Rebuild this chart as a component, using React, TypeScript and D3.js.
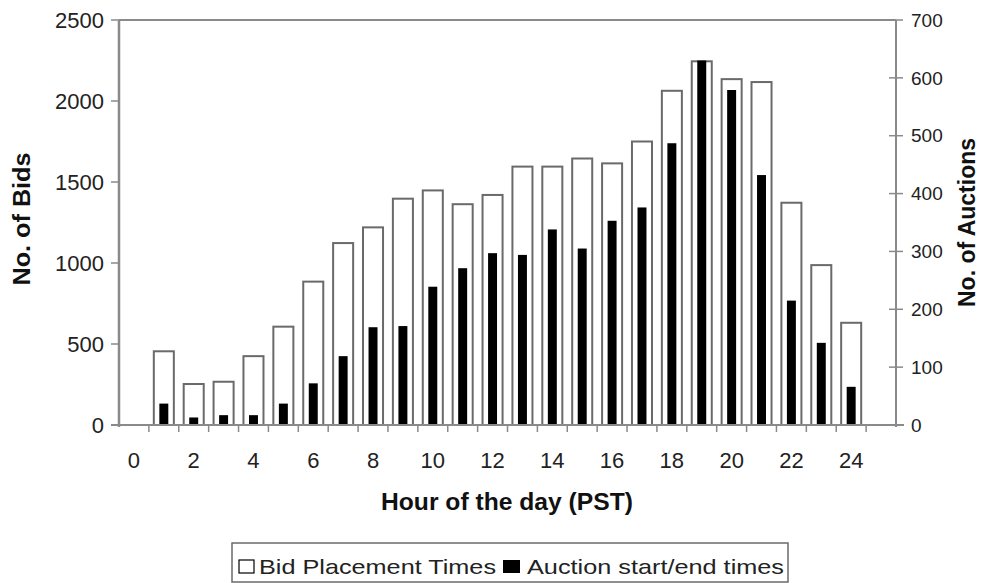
import React from "react";
import * as d3 from "d3";

const hours = d3.range(0, 26);
const bidCounts = [0, 455, 253, 267, 425, 607, 885, 1123, 1220, 1397, 1448, 1363, 1420, 1595, 1595, 1645, 1615, 1750, 2063, 2245, 2135, 2117, 1372, 987, 631, 0];
const auctionCounts = [0, 37, 13, 17, 17, 37, 72, 119, 169, 171, 239, 271, 297, 294, 338, 305, 353, 376, 487, 630, 579, 432, 215, 142, 66, 0];
const leftTicks = [0, 500, 1000, 1500, 2000, 2500];
const rightTicks = [0, 100, 200, 300, 400, 500, 600, 700];
const xLabels = [0, 2, 4, 6, 8, 10, 12, 14, 16, 18, 20, 22, 24];

const W = 985;
const H = 583;
const L = 119;
const R = 896;
const T = 20;
const B = 425;

export default function App() {
  const x = d3.scaleBand<number>().domain(hours).range([L, R]).paddingInner(0).paddingOuter(0);
  const yL = d3.scaleLinear().domain([0, 2500]).range([B, T]);
  const yR = d3.scaleLinear().domain([0, 700]).range([B, T]);
  const bw = x.bandwidth();
  const wBid = bw * 0.67;
  const wAuc = bw * 0.3;
  const axisColor = "#8a8a8a";
  const font = "Liberation Sans, Arial, sans-serif";
  const textColor = "#222";

  return (
    <svg width={W} height={H} style={{ position: "absolute", left: 0, top: 0, background: "#fff" }} fontFamily={font}>
      <rect x={0} y={0} width={W} height={H} fill="#fff" />
      {/* bid bars */}
      {hours.map((h, i) =>
        bidCounts[i] > 0 ? (
          <rect
            key={"b" + h}
            x={(x(h) as number) + (bw - wBid) / 2}
            y={yL(bidCounts[i])}
            width={wBid}
            height={B - yL(bidCounts[i])}
            fill="#fff"
            stroke="#6a6a6a"
            strokeWidth={2}
          />
        ) : null
      )}
      {/* auction bars */}
      {hours.map((h, i) =>
        auctionCounts[i] > 0 ? (
          <rect
            key={"a" + h}
            x={(x(h) as number) + (bw - wAuc) / 2}
            y={yR(auctionCounts[i])}
            width={wAuc}
            height={B - yR(auctionCounts[i])}
            fill="#000"
          />
        ) : null
      )}
      {/* frame */}
      <line x1={L} x2={R} y1={T} y2={T} stroke={axisColor} strokeWidth={2} />
      <line x1={L} x2={L} y1={T} y2={B + 2} stroke={axisColor} strokeWidth={2.5} />
      <line x1={R} x2={R} y1={T} y2={B + 2} stroke={axisColor} strokeWidth={2} />
      <line x1={L - 8} x2={R + 8} y1={B} y2={B} stroke={axisColor} strokeWidth={2} />
      {/* x ticks at category boundaries */}
      {hours.slice(1).map((h) => (
        <line key={"xt" + h} x1={x(h) as number} x2={x(h) as number} y1={B} y2={B + 7} stroke={axisColor} strokeWidth={1.5} />
      ))}
      {/* left ticks */}
      {leftTicks.map((t) => (
        <g key={"lt" + t}>
          <line x1={L - 8} x2={L} y1={yL(t)} y2={yL(t)} stroke={axisColor} strokeWidth={1.5} />
          <text x={104} y={yL(t)} dy="0.35em" textAnchor="end" fontSize={22} fill={textColor}>
            {t}
          </text>
        </g>
      ))}
      {/* right ticks */}
      {rightTicks.map((t) => (
        <g key={"rt" + t}>
          <line x1={R - 7} x2={R + 7} y1={yR(t)} y2={yR(t)} stroke={axisColor} strokeWidth={1.5} />
          <text x={911} y={yR(t)} dy="0.35em" textAnchor="start" fontSize={19} fill={textColor}>
            {t}
          </text>
        </g>
      ))}
      {/* x labels */}
      {xLabels.map((h) => (
        <text key={"xl" + h} x={(x(h) as number) + bw / 2} y={468} textAnchor="middle" fontSize={22} fill={textColor}>
          {h}
        </text>
      ))}
      {/* axis titles */}
      <text x={507} y={510} textAnchor="middle" fontSize={23} fontWeight="bold" fill="#111" textLength={252} lengthAdjust="spacingAndGlyphs">
        Hour of the day (PST)
      </text>
      <text transform={`translate(30, 219) rotate(-90)`} textAnchor="middle" fontSize={23} fontWeight="bold" fill="#111" textLength={133} lengthAdjust="spacingAndGlyphs">
        No. of Bids
      </text>
      <text transform={`translate(975, ${(T + B) / 2}) rotate(-90)`} textAnchor="middle" fontSize={23} fontWeight="bold" fill="#111">
        No. of Auctions
      </text>
      {/* legend */}
      <g>
        <rect x={232} y={543} width={556} height={39} fill="#fff" stroke="#6a6a6a" strokeWidth={1.5} />
        <rect x={239} y={560} width={15} height={13} fill="#fff" stroke="#000" strokeWidth={1.2} />
        <text x={259} y={574} fontSize={21} fill={textColor} textLength={237} lengthAdjust="spacingAndGlyphs">
          Bid Placement Times
        </text>
        <rect x={503} y={560} width={17} height={13} fill="#000" />
        <text x={527} y={574} fontSize={21} fill={textColor} textLength={257} lengthAdjust="spacingAndGlyphs">
          Auction start/end times
        </text>
      </g>
    </svg>
  );
}
